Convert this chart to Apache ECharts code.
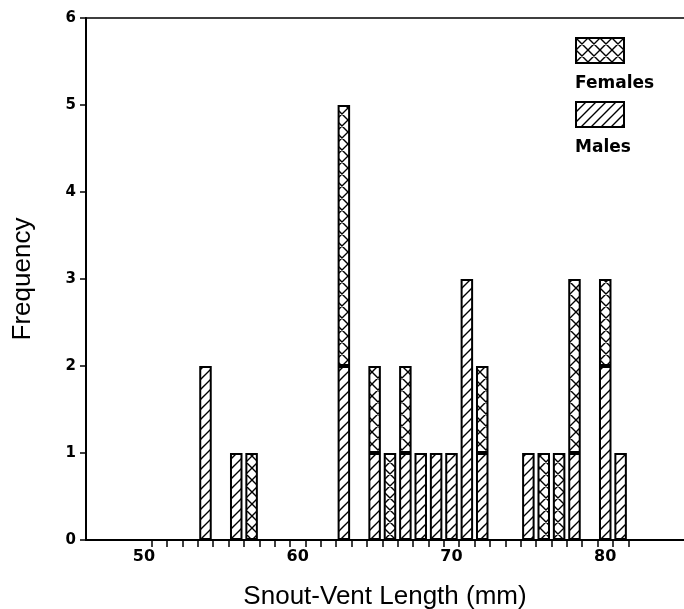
<!DOCTYPE html>
<html>
<head>
<meta charset="utf-8">
<script src="https://cdn.jsdelivr.net/npm/echarts@6/dist/echarts.min.js"></script>
<style>html,body{margin:0;padding:0;background:#fff}#c{width:684px;height:609px}</style>
</head>
<body>
<div id="c"></div>
<script>
// ---- data ----
const lengths = [54, 56, 57, 63, 65, 66, 67, 68, 69, 70, 71, 72, 75, 76, 77, 78, 80, 81];
const males   = [2, 1, 0, 2, 1, 0, 1, 1, 1, 1, 3, 1, 1, 0, 0, 1, 2, 1];
const females = [0, 0, 1, 3, 1, 1, 1, 0, 0, 0, 0, 1, 0, 1, 1, 2, 1, 0];
const axisFrom = 50, axisTo = 81;           // category range of the x axis
const xTickLabels = [50, 60, 70, 80];
const yTicks = [0, 1, 2, 3, 4, 5, 6];
const seriesNames = ['Females', 'Males'];

// categories and values per category
const categories = [];
for (let v = axisFrom; v <= axisTo; v++) categories.push(String(v));
function toCat(vals) {
  return categories.map(c => {
    const i = lengths.indexOf(Number(c));
    return (i >= 0 && vals[i] > 0) ? vals[i] : null;
  });
}

// hatch patterns
function makePattern(size, cross) {
  const c = document.createElement('canvas');
  c.width = size; c.height = size;
  const g = c.getContext('2d');
  g.fillStyle = '#fff'; g.fillRect(0, 0, size, size);
  g.strokeStyle = '#000'; g.lineWidth = 1.4; g.lineCap = 'square';
  g.beginPath();
  for (let k = -1; k <= 1; k++) {
    g.moveTo(k * size, size); g.lineTo(k * size + size, 0);
    if (cross) { g.moveTo(k * size, 0); g.lineTo(k * size + size, size); }
  }
  g.stroke();
  return c;
}
const malePat = { image: makePattern(10, false), repeat: 'repeat' };
const femalePat = { image: makePattern(12, true), repeat: 'repeat' };

const chart = echarts.init(document.getElementById('c'), null, { renderer: 'canvas' });
const tickFont = { fontFamily: 'DejaVu Sans', fontWeight: 'bold', fontSize: 16, color: '#000' };

chart.setOption({
  backgroundColor: '#fff',
  animation: false,
  grid: [
    { left: 136.3, right: 55.7, top: 18, bottom: 69, containLabel: false, outerBoundsMode: 'none' },
    { left: 86, right: 0, top: 18, bottom: 69, containLabel: false, outerBoundsMode: 'none' }
  ],
  xAxis: [
    {
      type: 'category', gridIndex: 0, data: categories, boundaryGap: true,
      axisLine: { show: false },
      axisTick: { show: true, length: 7, lineStyle: { color: '#000', width: 1.5 },
        interval: (i) => i >= 1 },
      axisLabel: Object.assign({ margin: 9, interval: (i, v) => xTickLabels.indexOf(Number(v)) >= 0 }, tickFont),
      splitLine: { show: false }
    },
    {
      type: 'value', gridIndex: 1, min: 0, max: 1, position: 'bottom',
      axisLine: { show: true, onZero: false, lineStyle: { color: '#000', width: 2 } },
      axisTick: { show: false }, axisLabel: { show: false }, splitLine: { show: false },
      name: 'Snout-Vent Length (mm)', nameLocation: 'middle', nameGap: 44,
      nameTextStyle: { fontFamily: 'Liberation Sans', fontSize: 26, color: '#000' }
    },
    {
      type: 'value', gridIndex: 1, min: 0, max: 1, position: 'top',
      axisLine: { show: true, onZero: false, lineStyle: { color: '#000', width: 1.5 } },
      axisTick: { show: false }, axisLabel: { show: false }, splitLine: { show: false }
    }
  ],
  yAxis: [
    { type: 'value', gridIndex: 0, min: 0, max: 6, interval: 1, show: false, splitLine: { show: false } },
    {
      type: 'value', gridIndex: 1, min: yTicks[0], max: yTicks[yTicks.length - 1], interval: 1,
      axisLine: { show: true, onZero: false, lineStyle: { color: '#000', width: 2 } },
      axisTick: { show: true, inside: false, length: 6, lineStyle: { color: '#000', width: 1.5 } },
      axisLabel: Object.assign({ margin: 10 }, tickFont, { fontSize: 15 }),
      splitLine: { show: false },
      name: 'Frequency', nameLocation: 'middle', nameGap: 50,
      nameTextStyle: { fontFamily: 'Liberation Sans', fontSize: 26, color: '#000' }
    }
  ],
  series: [
    {
      name: seriesNames[1], type: 'bar', stack: 'sex', xAxisIndex: 0, yAxisIndex: 0,
      data: toCat(males), barWidth: 12.5,
      itemStyle: { color: malePat, borderColor: '#000', borderWidth: 2 }
    },
    {
      name: seriesNames[0], type: 'bar', stack: 'sex', xAxisIndex: 0, yAxisIndex: 0,
      data: toCat(females), barWidth: 12.5,
      itemStyle: { color: femalePat, borderColor: '#000', borderWidth: 2 }
    }
  ],
  graphic: [
    { type: 'rect', left: 575, top: 37, shape: { width: 48, height: 25 },
      style: { fill: femalePat, stroke: '#000', lineWidth: 2 } },
    { type: 'text', left: 575, top: 75, style: { text: seriesNames[0], font: 'bold 17px "DejaVu Sans"', fill: '#000' } },
    { type: 'rect', left: 575, top: 101, shape: { width: 48, height: 25 },
      style: { fill: malePat, stroke: '#000', lineWidth: 2 } },
    { type: 'text', left: 575, top: 139, style: { text: seriesNames[1], font: 'bold 17px "DejaVu Sans"', fill: '#000' } }
  ]
});
</script>
</body>
</html>
